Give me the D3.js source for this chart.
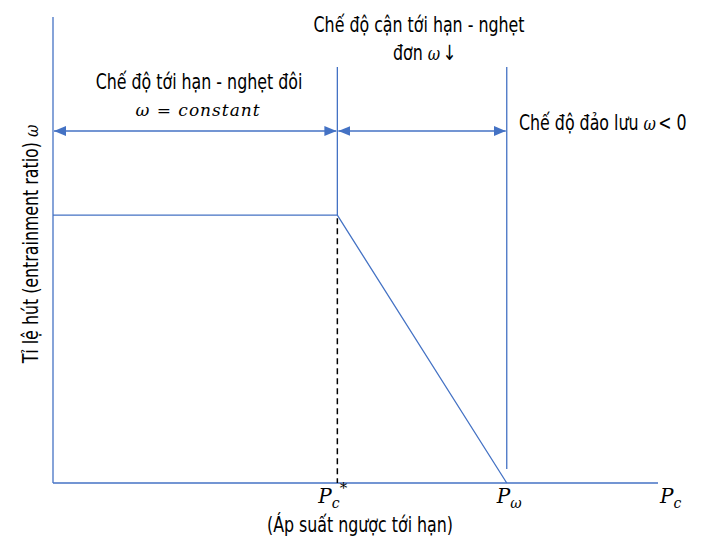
<!DOCTYPE html>
<html>
<head>
<meta charset="utf-8">
<script src="https://cdn.jsdelivr.net/npm/d3@7"></script>
<style>
  body { margin: 0; background: #fff; }
  svg { display: block; }
  .lbl { font-family: "DejaVu Sans Condensed", "DejaVu Sans", sans-serif; font-size: 22px; fill: #000; }
  .math { font-family: "DejaVu Serif", "Liberation Serif", serif; font-style: italic; fill: #000; }
</style>
</head>
<body>
<svg id="chart" width="706" height="545"></svg>
<script>
// --- data -------------------------------------------------------------
// back pressure (relative units) and entrainment ratio of the curve
var curveP = [0, 47, 75];
var curveW = [1, 1, 0];
// regime boundaries on the pressure axis
var boundaryP = [0, 47, 75];
var regimeTitles = [
    ['Chế độ tới hạn - nghẹt đôi'],
    ['Chế độ cận tới hạn - nghẹt', 'đơn']
];
var reverseTitle = 'Chế độ đảo lưu';
var yTitle = 'Tỉ lệ hút (entrainment ratio)';
var xTitle = '(Áp suất ngược tới hạn)';

var blue = '#4472c4';
var squeeze = 0.8;   // condensed look of the original font
var svg = d3.select('#chart');

var x = d3.scaleLinear().domain([0, 100]).range([53, 658]);
var y = d3.scaleLinear().domain([0, 1.74]).range([483, 17]);

var defs = svg.append('defs');
defs.append('marker')
    .attr('id', 'head')
    .attr('viewBox', '0 0 12 10')
    .attr('refX', 12).attr('refY', 5)
    .attr('markerWidth', 12).attr('markerHeight', 10)
    .attr('markerUnits', 'userSpaceOnUse')
    .attr('orient', 'auto-start-reverse')
    .append('path')
    .attr('d', 'M0,0L12,5L0,10Z')
    .attr('fill', blue);

function label(px, py, anchor, rotate) {
    return svg.append('g')
        .attr('transform', 'translate(' + px + ',' + py + ')' + (rotate ? ' rotate(' + rotate + ')' : '') + ' scale(' + squeeze + ',1)')
        .append('text')
        .attr('class', 'lbl')
        .attr('text-anchor', anchor || 'start');
}

// axes (plain lines, no ticks)
svg.append('line')
    .attr('x1', x(0)).attr('x2', x(0))
    .attr('y1', y.range()[1]).attr('y2', y(0))
    .attr('stroke', blue).attr('stroke-width', 1.3);
svg.append('line')
    .attr('x1', x(0)).attr('x2', x(100))
    .attr('y1', y(0)).attr('y2', y(0))
    .attr('stroke', blue).attr('stroke-width', 1.3);

// entrainment curve
var line = d3.line()
    .x(function (d) { return x(d[0]); })
    .y(function (d) { return y(d[1]); });

svg.append('path')
    .datum(d3.zip(curveP, curveW))
    .attr('d', line)
    .attr('fill', 'none')
    .attr('stroke', blue)
    .attr('stroke-width', 1.3);

// dashed drop line at critical pressure
svg.append('line')
    .attr('x1', x(boundaryP[1])).attr('x2', x(boundaryP[1]))
    .attr('y1', y(curveW[1]) + 3).attr('y2', y(0))
    .attr('stroke', '#000').attr('stroke-width', 1.5)
    .attr('stroke-dasharray', '6,4');

// regime separators
var topY = 67;
svg.append('line')
    .attr('x1', x(boundaryP[1])).attr('x2', x(boundaryP[1]))
    .attr('y1', topY).attr('y2', y(curveW[1]))
    .attr('stroke', blue).attr('stroke-width', 1.3);
svg.append('line')
    .attr('x1', x(boundaryP[2])).attr('x2', x(boundaryP[2]))
    .attr('y1', topY).attr('y2', 469)
    .attr('stroke', blue).attr('stroke-width', 1.3);

// double headed arrows
var arrowY = 131;
for (var i = 0; i < 2; i++) {
    svg.append('line')
        .attr('x1', x(boundaryP[i]) + 1).attr('x2', x(boundaryP[i + 1]) - 1)
        .attr('y1', arrowY).attr('y2', arrowY)
        .attr('stroke', blue).attr('stroke-width', 1.3)
        .attr('marker-start', 'url(#head)')
        .attr('marker-end', 'url(#head)');
}

// regime titles
label(199, 89, 'middle').text(regimeTitles[0][0]);
svg.append('text').attr('class', 'math')
    .attr('x', 198).attr('y', 116).attr('text-anchor', 'middle')
    .attr('font-size', 17).attr('letter-spacing', 1)
    .text('ω = constant');

label(419, 32, 'middle').text(regimeTitles[1][0]);
var t2 = label(393, 60);
t2.append('tspan').text(regimeTitles[1][1] + '  ');
t2.append('tspan').attr('class', 'math').attr('font-size', 19).text('ω');
t2.append('tspan').attr('font-family', 'DejaVu Sans').attr('font-size', 21).attr('dx', 3).text('↓');

var t3 = label(519, 130);
t3.append('tspan').text(reverseTitle + '  ');
t3.append('tspan').attr('class', 'math').attr('font-size', 19).text('ω');
t3.append('tspan').attr('dx', 3).text('< 0');

// y title
var yt = label(38, 244, 'middle', -90);
yt.append('tspan').text(yTitle + '  ');
yt.append('tspan').attr('class', 'math').attr('font-size', 19).text('ω');

// pressure labels
var pLabels = [
    { p: boundaryP[1], sub: 'c', sup: '*', dx: -19 },
    { p: boundaryP[2], sub: 'ω', sup: null, dx: -10 },
    { p: 100, sub: 'c', sup: null, dx: 2 }
];
pLabels.forEach(function (d) {
    var t = svg.append('text').attr('class', 'math')
        .attr('x', x(d.p) + d.dx).attr('y', 503)
        .attr('font-size', 20);
    t.append('tspan').text('P');
    t.append('tspan').attr('font-size', 14).attr('dy', 5).text(d.sub);
    if (d.sup)
        t.append('tspan').attr('font-size', 15).attr('font-style', 'normal')
            .attr('dy', -15).text(d.sup);
});

label(360, 532, 'middle').text(xTitle);
</script>
</body>
</html>
